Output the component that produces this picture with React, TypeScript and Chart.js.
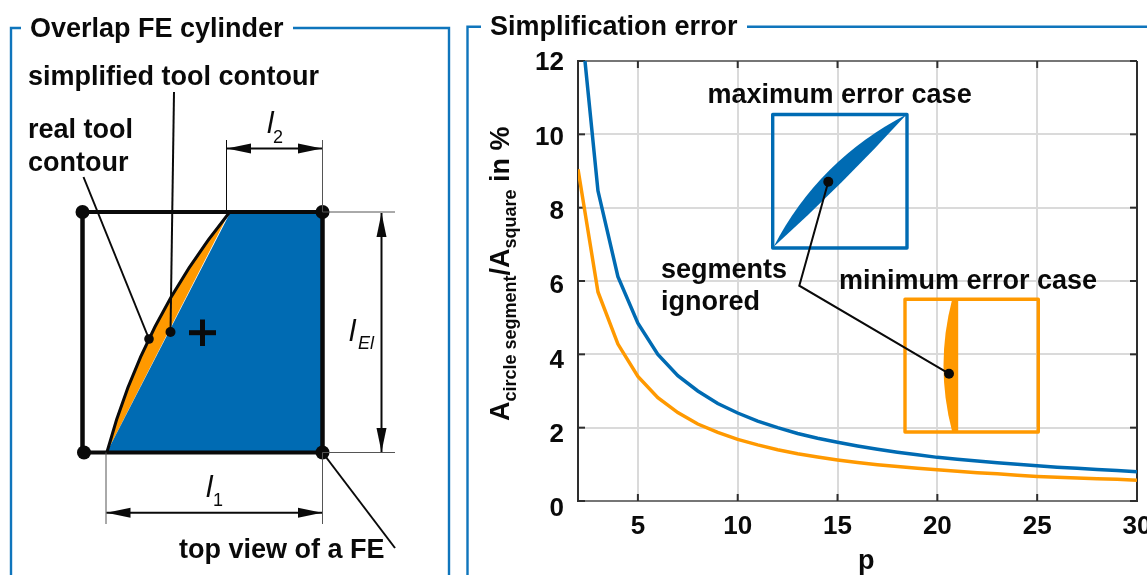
import React, { useEffect, useRef } from "react";
import { Chart, registerables } from "chart.js";

Chart.register(...registerables);

const pValues = [2,3,4,5,6,7,8,9,10,11,12,13,14,15,16,17,18,19,20,21,22,23,24,25,26,27,28,29,30];
const maxErrorCase = [13.9,8.46,6.12,4.85,4.0,3.42,3.0,2.66,2.4,2.18,2.0,1.84,1.71,1.6,1.5,1.41,1.33,1.26,1.19,1.14,1.09,1.04,1.0,0.96,0.92,0.89,0.86,0.83,0.8];
const minErrorCase = [9.05,5.7,4.28,3.4,2.82,2.41,2.1,1.87,1.68,1.53,1.4,1.29,1.2,1.12,1.05,0.99,0.94,0.89,0.85,0.81,0.77,0.74,0.7,0.67,0.65,0.63,0.61,0.59,0.565];
const xTickValues = [5,10,15,20,25,30];
const yTickValues = [0,2,4,6,8,10,12];

const BLUE = "#006BB3";
const ORANGE = "#FF9900";
const FRAME = "#0F75BC";
const INK = "#0a0a0a";
const FF = '"Liberation Sans", Arial, sans-serif';
const BOLD = `bold 27px ${FF}`;
const TICK = `bold 26px ${FF}`;

type C = CanvasRenderingContext2D;

function line(c: C, pts: number[][], w = 2, col = INK) {
  c.save();
  c.strokeStyle = col;
  c.lineWidth = w;
  c.lineJoin = "miter";
  c.beginPath();
  pts.forEach((p, i) => (i ? c.lineTo(p[0], p[1]) : c.moveTo(p[0], p[1])));
  c.stroke();
  c.restore();
}
function dot(c: C, x: number, y: number, r: number) {
  c.fillStyle = INK;
  c.beginPath();
  c.arc(x, y, r, 0, Math.PI * 2);
  c.fill();
}
function text(c: C, s: string, x: number, y: number, font = BOLD) {
  c.font = font;
  c.fillStyle = INK;
  c.textAlign = "left";
  c.textBaseline = "alphabetic";
  c.fillText(s, x, y);
}
function arrow(c: C, x1: number, y1: number, x2: number, y2: number) {
  line(c, [[x1, y1], [x2, y2]], 2);
  const len = Math.hypot(x2 - x1, y2 - y1);
  const ux = (x2 - x1) / len, uy = (y2 - y1) / len;
  const head = (x: number, y: number, dx: number, dy: number) => {
    c.fillStyle = INK;
    c.beginPath();
    c.moveTo(x, y);
    c.lineTo(x + dx * 24 - dy * 5, y + dy * 24 + dx * 5);
    c.lineTo(x + dx * 24 + dy * 5, y + dy * 24 - dx * 5);
    c.closePath();
    c.fill();
  };
  head(x1, y1, ux, uy);
  head(x2, y2, -ux, -uy);
}

function drawFrames(c: C) {
  line(c, [[21, 28], [11, 28], [11, 575]], 2.4, FRAME);
  line(c, [[293, 28], [449, 28], [449, 575]], 2.4, FRAME);
  line(c, [[481, 26.7], [467.5, 26.7], [467.5, 575]], 2.4, FRAME);
  line(c, [[747, 26.7], [1147, 26.7]], 2.4, FRAME);
  text(c, "Overlap FE cylinder", 30, 37);
  text(c, "Simplification error", 490, 35);
}

function drawFeDiagram(c: C) {
  c.fillStyle = ORANGE;
  c.beginPath();
  c.moveTo(107, 452);
  c.quadraticCurveTo(142.5, 320, 229, 213);
  c.closePath();
  c.fill();
  c.fillStyle = BLUE;
  c.beginPath();
  c.moveTo(107, 452);
  c.lineTo(230, 213);
  c.lineTo(322, 213);
  c.lineTo(322, 452);
  c.closePath();
  c.fill();
  c.strokeStyle = INK;
  c.lineWidth = 3;
  c.beginPath();
  c.moveTo(107, 452);
  c.quadraticCurveTo(142.5, 320, 229, 213);
  c.stroke();
  line(c, [[82.5, 212], [322.5, 212]], 4);
  line(c, [[82.5, 212], [82.5, 452.5]], 4.5);
  line(c, [[322.5, 212], [322.5, 452.5]], 4.5);
  line(c, [[84, 452.5], [322.5, 452.5]], 4);
  dot(c, 82.5, 212, 7);
  dot(c, 322.5, 212, 7);
  dot(c, 84, 452.5, 7);
  dot(c, 322.5, 452.5, 7);
  line(c, [[189, 332.7], [216, 332.7]], 5);
  line(c, [[202.5, 319.5], [202.5, 346]], 5);
  line(c, [[174, 92], [170.5, 332]], 2);
  dot(c, 170.5, 332, 5);
  line(c, [[83.5, 177], [149, 339]], 2);
  dot(c, 149, 339, 4.8);
  line(c, [[322.5, 452.5], [395, 548]], 2);
  const thin = "#555555";
  line(c, [[226.5, 140], [226.5, 212]], 1, INK);
  line(c, [[322.5, 140], [322.5, 212]], 1, thin);
  line(c, [[322.5, 212], [395, 212]], 1, thin);
  line(c, [[322.5, 452.5], [395, 452.5]], 1, thin);
  line(c, [[106, 452.5], [106, 524]], 1, thin);
  line(c, [[322.5, 452.5], [322.5, 524]], 1, thin);
  arrow(c, 227, 148.5, 322, 148.5);
  arrow(c, 381.5, 213, 381.5, 452);
  arrow(c, 106.5, 512.7, 322, 512.7);
  text(c, "simplified tool contour", 28, 85);
  text(c, "real tool", 28, 138);
  text(c, "contour", 28, 171);
  text(c, "top view of a FE", 179, 558);
  const it = `italic 30px ${FF}`, sub = `18px ${FF}`, subIt = `italic 18px ${FF}`;
  text(c, "l", 267, 133, it);
  text(c, "2", 273, 143, sub);
  text(c, "l", 206, 497, it);
  text(c, "1", 213, 506, sub);
  text(c, "l", 349, 341, it);
  text(c, "El", 358, 349, subIt);
}

function drawInsets(c: C) {
  text(c, "maximum error case", 707.5, 103);
  text(c, "minimum error case", 839, 289);
  text(c, "segments", 661, 278);
  text(c, "ignored", 661, 310);
  c.fillStyle = BLUE;
  c.beginPath();
  c.moveTo(773.5, 247);
  c.quadraticCurveTo(818.5, 160, 906.5, 114.5);
  c.quadraticCurveTo(843, 184, 773.5, 247);
  c.closePath();
  c.fill();
  c.strokeStyle = BLUE;
  c.lineWidth = 3.4;
  c.lineJoin = "round";
  c.strokeRect(772.7, 114.5, 134.3, 133.5);
  c.fillStyle = ORANGE;
  c.beginPath();
  c.moveTo(956.7, 299.5);
  c.lineTo(952, 300);
  c.quadraticCurveTo(935, 365.5, 952, 431);
  c.lineTo(956.7, 432);
  c.closePath();
  c.fill();
  line(c, [[956.7, 299.5], [956.7, 432]], 3, ORANGE);
  c.strokeStyle = ORANGE;
  c.lineWidth = 3.4;
  c.lineJoin = "round";
  c.strokeRect(905, 299.3, 133.3, 132.7);
  line(c, [[828.3, 181.7], [799.3, 285.7], [949, 373.7]], 2);
  dot(c, 828.3, 181.7, 5);
  dot(c, 949, 373.7, 5);
}

function drawYTitle(c: C) {
  c.save();
  c.translate(509, 421);
  c.rotate(-Math.PI / 2);
  const big = BOLD, small = `bold 18px ${FF}`;
  const parts: [string, string, number][] = [
    ["A", big, 0],
    ["circle segment", small, 7],
    ["/A", big, 0],
    ["square", small, 7],
    [" in %", big, 0],
  ];
  let x = 0;
  c.textAlign = "left";
  c.textBaseline = "alphabetic";
  c.fillStyle = INK;
  for (const [s, f, dy] of parts) {
    c.font = f;
    c.fillText(s, x, dy);
    x += c.measureText(s).width;
  }
  c.restore();
}

const decorations = {
  id: "decorations",
  beforeDatasetsDraw(chart: any) {
    const c: C = chart.ctx;
    const { left, right, top, bottom } = chart.chartArea;
    const xs = chart.scales.x, ys = chart.scales.y;
    const dark = "#2E2E2E", grey = "#555555";
    line(c, [[left, top], [right, top]], 1.5, grey);
    line(c, [[left, bottom], [right, bottom]], 1.5, grey);
    line(c, [[left, top - 1], [left, bottom + 1]], 2, dark);
    line(c, [[right, top], [right, bottom + 1]], 2, dark);
    xTickValues.forEach((v) => {
      const x = xs.getPixelForValue(v);
      line(c, [[x, bottom], [x, bottom - 7]], 2, dark);
      line(c, [[x, top], [x, top + 7]], 2, dark);
    });
    yTickValues.forEach((v) => {
      const y = ys.getPixelForValue(v);
      line(c, [[left, y], [left + 7, y]], 2, dark);
      line(c, [[right, y], [right - 7, y]], 2, dark);
    });
  },
  afterDraw(chart: any) {
    const c: C = chart.ctx;
    c.save();
    const ys = chart.scales.y;
    c.font = TICK;
    c.fillStyle = INK;
    c.textAlign = "right";
    c.textBaseline = "middle";
    yTickValues.forEach((v) => {
      c.fillText(String(v), 564, ys.getPixelForValue(v) + 2 + (12 - v) * 0.5);
    });
    drawFrames(c);
    drawFeDiagram(c);
    drawInsets(c);
    drawYTitle(c);
    text(c, "p", 858, 569);
    c.restore();
  },
};

export default function App() {
  const ref = useRef<HTMLCanvasElement>(null);
  useEffect(() => {
    const chart = new Chart(ref.current!, {
      type: "line",
      data: {
        datasets: [
          {
            label: "maximum error case",
            data: pValues.map((p, i) => ({ x: p, y: maxErrorCase[i] })),
            borderColor: BLUE,
            borderWidth: 3.5,
            pointRadius: 0,
            tension: 0,
          },
          {
            label: "minimum error case",
            data: pValues.map((p, i) => ({ x: p, y: minErrorCase[i] })),
            borderColor: ORANGE,
            borderWidth: 3.5,
            pointRadius: 0,
            tension: 0,
          },
        ],
      },
      options: {
        responsive: false,
        animation: false,
        devicePixelRatio: 1,
        layout: { padding: { left: 0, right: 10, top: 61, bottom: 0 } },
        plugins: { legend: { display: false }, tooltip: { enabled: false }, title: { display: false } },
        scales: {
          x: {
            type: "linear",
            min: 2,
            max: 30,
            afterBuildTicks: (s: any) => {
              s.ticks = xTickValues.map((value) => ({ value }));
            },
            afterFit: (s: any) => {
              s.height = 74;
              s.paddingLeft = 0;
              s.paddingRight = 0;
            },
            border: { display: false },
            grid: { color: "#DADADA", lineWidth: 2, drawTicks: false },
            ticks: {
              autoSkip: false,
              maxRotation: 0,
              minRotation: 0,
              padding: 10,
              color: INK,
              font: { family: "Liberation Sans", size: 26, weight: "bold" },
            },
          },
          y: {
            type: "linear",
            min: 0,
            max: 12,
            afterFit: (s: any) => {
              s.width = 578;
              s.paddingTop = 0;
              s.paddingBottom = 0;
            },
            border: { display: false },
            grid: { color: "#DADADA", lineWidth: 2, drawTicks: false },
            ticks: { stepSize: 2, display: false },
          },
        },
      },
      plugins: [decorations],
    } as any);
    return () => chart.destroy();
  }, []);
  return (
    <canvas
      ref={ref}
      width={1147}
      height={575}
      style={{ position: "fixed", left: 0, top: 0, width: 1147, height: 575, display: "block" }}
    />
  );
}
